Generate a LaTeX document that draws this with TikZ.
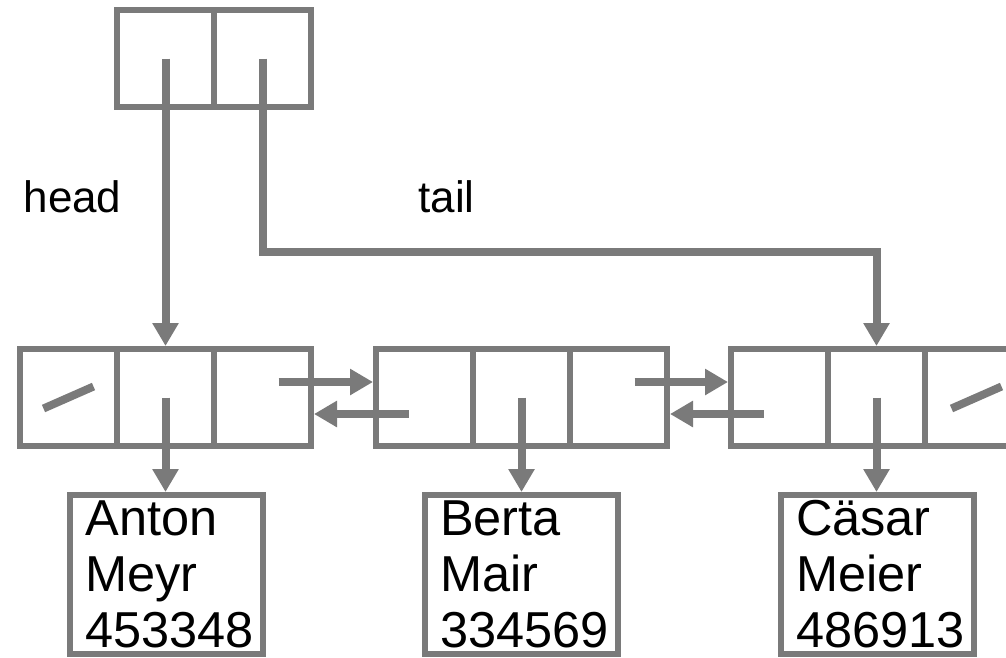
\documentclass[tikz,border=0pt]{standalone}
\usepackage{fontspec}
\setmainfont{Liberation Sans}
\usetikzlibrary{arrows.meta}
\definecolor{linegray}{RGB}{122,122,122}
\begin{document}
\begin{tikzpicture}[x=1pt,y=-1pt,
    cell/.style={draw=linegray, line width=6pt, minimum width=97pt, minimum height=97pt, inner sep=0pt},
    databox/.style={draw=linegray, line width=6pt, text width=168pt, inner xsep=12.5pt, minimum height=159pt, inner ysep=0pt, align=left, font=\fontsize{50.5}{56}\selectfont},
    ptrname/.style={font=\fontsize{44}{50}\selectfont, anchor=base},
    ptr/.style={draw=linegray, line width=8pt, -{Triangle[length=23pt,width=25pt]}},
    nil/.style={draw=linegray, line width=8pt}]
    \useasboundingbox (0,0) rectangle (1006,657);

    % List header
    \node[cell] (headcell) at (165.5,58.5) {};
    \node[cell] (tailcell) at (262.5,58.5) {};

    % Elements
    \node[cell] (n1a) at (68.5,397.5) {};
    \node[cell] (n1b) at (165.5,397.5) {};
    \node[cell] (n1c) at (262.5,397.5) {};
    \node[cell] (n2a) at (424.5,397.5) {};
    \node[cell] (n2b) at (521.5,397.5) {};
    \node[cell] (n2c) at (618.5,397.5) {};
    \node[cell] (n3a) at (779.5,397.5) {};
    \node[cell] (n3b) at (876.5,397.5) {};
    \node[cell] (n3c) at (973.5,397.5) {};

    % Data
    \node[databox] (anton) at (166.5,574.5) {\hspace*{3pt}Anton\\\hspace*{3pt}Meyr\\\hspace*{3pt}453348};
    \node[databox] (berta) at (521,574.5) {\hspace*{3pt}Berta\\\hspace*{3pt}Mair\\\hspace*{3pt}334569};
    \node[databox] (caesar) at (877,574.5) {\hspace*{3pt}Cäsar\\\hspace*{3pt}Meier\\\hspace*{3pt}486913};

    % Labels
    \node[ptrname] (headlabel) at (72.5,212) {head};
    \node[ptrname] (taillabel) at (446.5,212) {tail};

    % Pointers
    \draw[ptr] (headcell.center) -- (n1b.north);
    \draw[ptr] (tailcell.center) -- ++(0,193.5) -| (n3b.north);

    \draw[ptr] (n1b.center) -- (n1b.center |- anton.north);
    \draw[ptr] (n2b.center) -- (n2b.center |- berta.north);
    \draw[ptr] (n3b.center) -- (n3b.center |- caesar.north);

    \draw[ptr] ([xshift=16pt,yshift=15.5pt]n1c.center) -- ([yshift=15.5pt]n2a.west);
    \draw[ptr] ([xshift=-16pt,yshift=-16.5pt]n2a.center) -- ([yshift=-16.5pt]n1c.east);
    \draw[ptr] ([xshift=16pt,yshift=15.5pt]n2c.center) -- ([yshift=15.5pt]n3a.west);
    \draw[ptr] ([xshift=-16pt,yshift=-16.5pt]n3a.center) -- ([yshift=-16.5pt]n2c.east);

    % Null pointers
    \draw[nil] ([xshift=-25pt,yshift=-11pt]n1a.center) -- ([xshift=25pt,yshift=11pt]n1a.center);
    \draw[nil] ([xshift=-22pt,yshift=-11pt]n3c.center) -- ([xshift=28pt,yshift=11pt]n3c.center);
\end{tikzpicture}
\end{document}
